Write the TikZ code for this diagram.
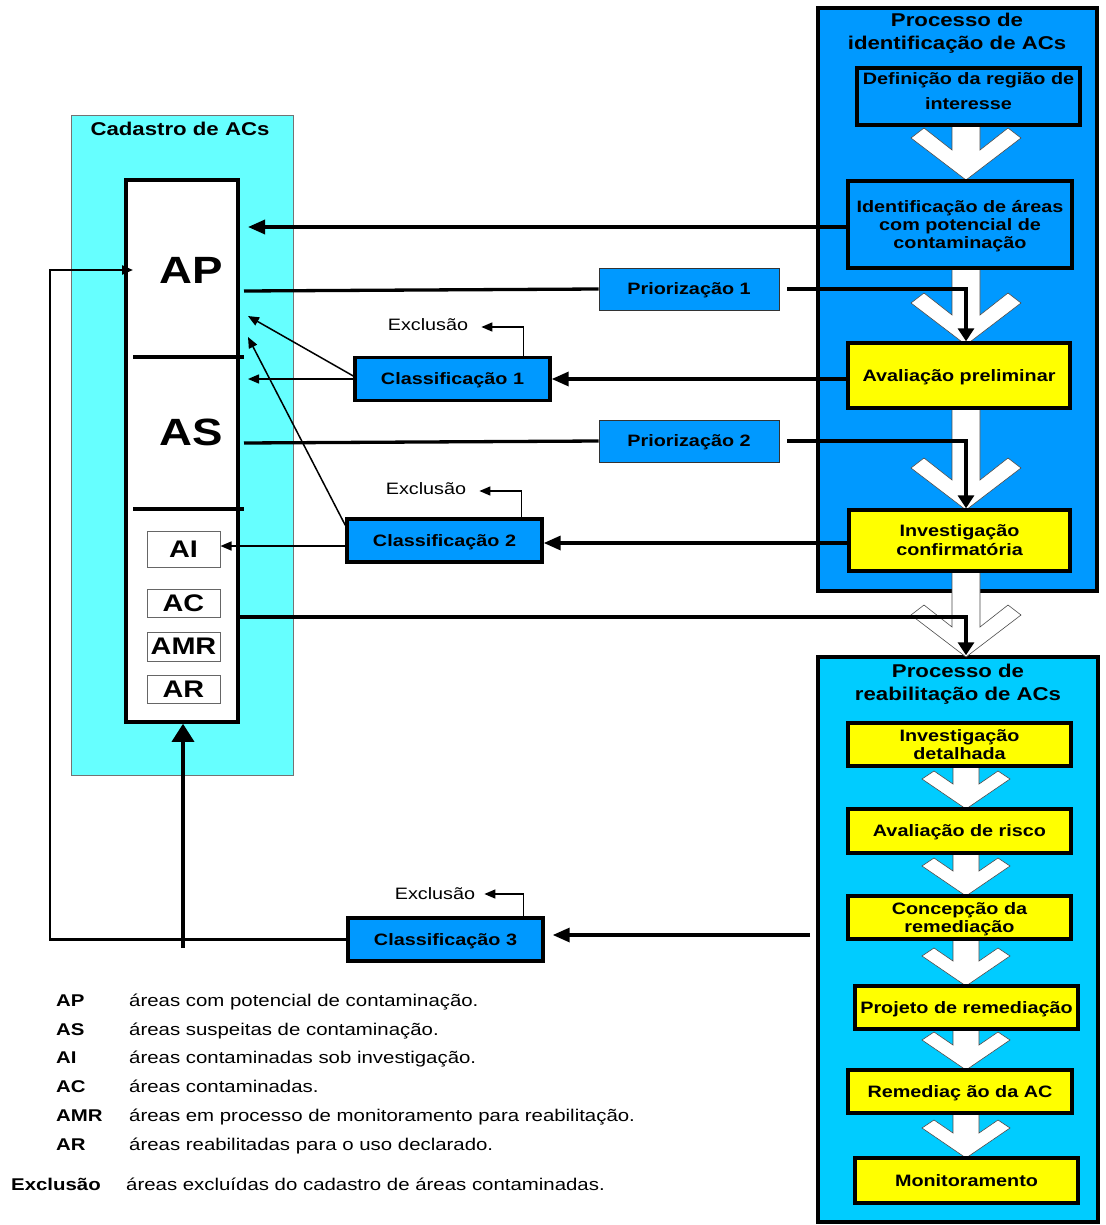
\documentclass[tikz,border=0pt]{standalone}
\usepackage{fontspec}
\setmainfont{Liberation Sans}[FakeStretch=1.2]
\usetikzlibrary{arrows.meta,calc}
\pgfdeclarelayer{back}
\pgfdeclarelayer{chev}
\pgfdeclarelayer{conn}
\pgfsetlayers{back,chev,conn,main}
\definecolor{pblue}{RGB}{0,153,255}
\definecolor{pcyan}{RGB}{0,204,255}
\definecolor{cadc}{RGB}{102,255,255}
\definecolor{pyel}{RGB}{255,255,0}
\newcommand\fsn{\fontsize{16.5}{19}\selectfont}
\newcommand\fsl{\fontsize{17}{19}\selectfont}
\newcommand\fst{\fontsize{18.5}{22.5}\selectfont}
\newcommand\bigchev[3]{%
  \draw[chevs] (#1-14,#2) -- (#1+14,#2) -- (#1+14,#3+22) -- (#1+42,#3) -- (#1+55,#3+10)
    -- (#1,#3+52) -- (#1-55,#3+10) -- (#1-42,#3) -- (#1-14,#3+22) -- cycle;}
\newcommand\smallchev[3]{%
  \draw[chevs] (#1-13,#2) -- (#1+13,#2) -- (#1+13,#3+13) -- (#1+32,#3) -- (#1+44,#3+8)
    -- (#1,#3+38) -- (#1-44,#3+8) -- (#1-32,#3) -- (#1-13,#3+13) -- cycle;}
\tikzset{
  bigbox/.style={draw=black, line width=3.5pt, inner sep=0pt},
  pbox/.style={draw=black, line width=3.4pt, fill=pblue, inner sep=0pt, align=center, font=\bfseries\fsn, text depth=0pt},
  ybox/.style={draw=black, line width=3.4pt, fill=pyel, inner sep=0pt, align=center, font=\bfseries\fsn, text depth=0pt},
  prbox/.style={draw=black!80, line width=0.8pt, fill=pblue, inner sep=0pt, font=\bfseries\fsn, text depth=0pt, minimum width=180pt, minimum height=42pt},
  clbox/.style={pbox, minimum width=195pt, minimum height=43pt},
  abox/.style={draw=black!60, line width=1pt, fill=white, inner sep=0pt, minimum width=73pt, font=\bfseries\fontsize{24}{24}\selectfont},
  chevs/.style={fill=white, draw=black!70, line width=0.6pt},
  thk/.style={line width=3.3pt},
  thn/.style={line width=1.5pt},
  mdl/.style={line width=2.3pt},
  bigtip/.style={-{Triangle[length=17pt,width=14pt]}},
  downtip/.style={-{Triangle[length=13pt,width=16pt]}},
  uptip/.style={-{Triangle[length=18pt,width=22pt]}},
  smtip/.style={-{Triangle[length=11pt,width=9pt]}},
  leg/.style={anchor=base west, font=\fsl, inner sep=0pt},
  legk/.style={leg, font=\bfseries\fsl},
  excl/.style={font=\fsn, inner sep=0pt},
  bigl/.style={font=\bfseries\fontsize{38}{40}\selectfont, inner sep=0pt}
}
\begin{document}
\begin{tikzpicture}[x=1pt,y=-1pt]
\useasboundingbox (0,0) rectangle (1105,1225);
\begin{pgfonlayer}{back}
\fill[white] (0,0) rectangle (1105,1225);
\node[bigbox, fill=pblue, minimum width=279pt, minimum height=583pt] (proc1) at (957.5,299.5) {};
\node[bigbox, fill=pcyan, minimum width=280pt, minimum height=565pt] (proc2) at (958,939.5) {};
\node[draw=black!55, line width=0.8pt, fill=cadc, minimum width=222pt, minimum height=660pt, inner sep=0pt] (cad) at (182,445) {};
\node[draw=black, line width=3.5pt, fill=white, minimum width=112pt, minimum height=542pt, inner sep=0pt] (reg) at (182,451) {};
\end{pgfonlayer}

\begin{pgfonlayer}{chev}
\bigchev{966}{125}{128}
\bigchev{966}{267}{293}
\bigchev{966}{408}{458}
\bigchev{966}{571}{605}
\smallchev{966}{766}{771}
\smallchev{966}{853}{858}
\smallchev{966}{939}{948}
\smallchev{966}{1029}{1032}
\smallchev{966}{1113}{1120}
\end{pgfonlayer}

% titles
\node[font=\bfseries\fst, align=center, inner sep=0pt] (t1) at (957,33) {Processo de\\identificação de ACs};
\node[font=\bfseries\fst, align=center, inner sep=0pt] (t2) at (958,684) {Processo de\\reabilitação de ACs};
\node[font=\bfseries\fst, inner sep=0pt] (tcad) at (180,129) {Cadastro de ACs};

% identification process
\node[pbox, minimum width=223pt, minimum height=57pt] (defreg) at (968.5,96.5) {};
\node[font=\bfseries\fsn, align=center, inner sep=0pt] (defregt) at (968.5,91.5) {Definição da região de\\[6pt]interesse};
\node[pbox, minimum width=224pt, minimum height=87pt] (ident) at (960,224.5) {Identificação de áreas\\[-1pt]com potencial de\\[-1pt]contaminação};
\node[ybox, minimum width=222pt, minimum height=65pt] (avalp) at (959,375.5) {Avaliação preliminar};
\node[ybox, minimum width=221pt, minimum height=61pt] (invc) at (959.5,540.5) {Investigação\\confirmatória};

% rehabilitation process
\node[ybox, minimum width=223pt, minimum height=43pt] (invd) at (959.5,744.5) {Investigação\\[-1pt]detalhada};
\node[ybox, minimum width=223pt, minimum height=44pt] (avr) at (959.5,831) {Avaliação de risco};
\node[ybox, minimum width=223pt, minimum height=43pt] (conc) at (959.5,917.5) {Concepção da\\[-1pt]remediação};
\node[ybox, minimum width=223pt, minimum height=43pt] (proj) at (966.5,1007.5) {Projeto de remediação};
\node[ybox, minimum width=224pt, minimum height=43pt] (remed) at (960,1091.5) {Remediaç ão da AC};
\node[ybox, minimum width=223pt, minimum height=45pt] (monit) at (966.5,1180.5) {Monitoramento};

% middle boxes
\node[prbox] (prio1) at (689,289) {Priorização 1};
\node[prbox] (prio2) at (689,441) {Priorização 2};
\node[clbox] (cls1) at (452.5,379) {Classificação 1};
\node[clbox] (cls2) at (444.5,540.5) {Classificação 2};
\node[clbox] (cls3) at (445.5,939.5) {Classificação 3};
\node[excl] (ex1) at (428,325) {Exclusão};
\node[excl] (ex2) at (426,489) {Exclusão};
\node[excl] (ex3) at (435,894) {Exclusão};

% register content
\node[bigl] (apt) at (191,270) {AP};
\node[bigl] (ast) at (191,432) {AS};
\draw[line width=3.3pt] (133,357) -- (244,357);
\draw[line width=3.3pt] (133,509) -- (244,509);
\node[abox, minimum height=36pt] (ai) at (183.5,549) {AI};
\node[abox, minimum height=28pt] (ac) at (183.5,603) {AC};
\node[abox, minimum height=29pt] (amr) at (183.5,646.5) {AMR};
\node[abox, minimum height=28pt] (ar) at (183.5,689) {AR};

% free-end coordinates
\coordinate (apL) at (248,0);
\coordinate (apO) at (244,291);
\coordinate (asO) at (244,443);
\coordinate (c1a) at (248,0);
\coordinate (c1b) at (248,316);
\coordinate (c2b) at (248,337);
\coordinate (regout) at (238,617);
\coordinate (c3in) at (810,935);
\coordinate (fbL) at (50,0);
\coordinate (apin) at (133,270);
\coordinate (regup) at (183,948);

\begin{pgfonlayer}{conn}
\draw[thk, bigtip] (ident.west |- 0,227) -- (apL |- 0,227);
\draw[thk] (apO) -- (prio1.west);
\draw[thk, downtip] ([xshift=8pt]prio1.east) -| ([xshift=7pt]avalp.north);
\draw[thk] (asO) -- (prio2.west);
\draw[thk, downtip] ([xshift=8pt]prio2.east) -| ([xshift=6.5pt]invc.north);
\draw[thk, bigtip] (avalp.west |- cls1.east) -- (cls1.east);
\draw[thk, bigtip] (invc.west |- 0,543) -- (cls2.east |- 0,543);
\draw[thn, smtip] (cls1.west) -- (c1a |- cls1.west);
\draw[thn, smtip] ([yshift=3pt]cls1.west) -- (c1b);
\draw[thn, smtip] (cls2.west |- 0,546) -- (ai.east |- 0,546);
\draw[thn, smtip] ($(cls2.north west)+(0,8)$) -- (c2b);
\draw[thn, smtip] ([xshift=-28pt]cls1.north east) |- ([xshift=13pt,yshift=-2pt]ex1.east);
\draw[thn, smtip] ([xshift=-22pt]cls2.north east) |- ([xshift=13pt,yshift=-2pt]ex2.east);
\draw[thn, smtip] ([xshift=-21pt]cls3.north east) |- ([xshift=9pt]ex3.east);
\draw[thk, downtip] (regout) -| ([xshift=8pt]proc2.north);
\draw[thk, bigtip, shorten >=8pt] (c3in) -- (cls3.east |- c3in);
\draw[mdl, smtip] (cls3.west) -- (fbL |- cls3.west) |- (apin);
\draw[thk, uptip] (regup) -- (regup |- reg.south);
\end{pgfonlayer}

% legend
\node[legk] (kAP) at (56,1006) {AP};
\node[leg] (dAP) at (129,1006) {áreas com potencial de contaminação.};
\node[legk] (kAS) at (56,1035) {AS};
\node[leg] (dAS) at (129,1035) {áreas suspeitas de contaminação.};
\node[legk] (kAI) at (56,1063) {AI};
\node[leg] (dAI) at (129,1063) {áreas contaminadas sob investigação.};
\node[legk] (kAC) at (56,1092) {AC};
\node[leg] (dAC) at (129,1092) {áreas contaminadas.};
\node[legk] (kAMR) at (56,1121) {AMR};
\node[leg] (dAMR) at (129,1121) {áreas em processo de monitoramento para reabilitação.};
\node[legk] (kAR) at (56,1150) {AR};
\node[leg] (dAR) at (129,1150) {áreas reabilitadas para o uso declarado.};
\node[legk] (kEx) at (11,1190) {Exclusão};
\node[leg] (dEx) at (126,1190) {áreas excluídas do cadastro de áreas contaminadas.};
\end{tikzpicture}
\end{document}
